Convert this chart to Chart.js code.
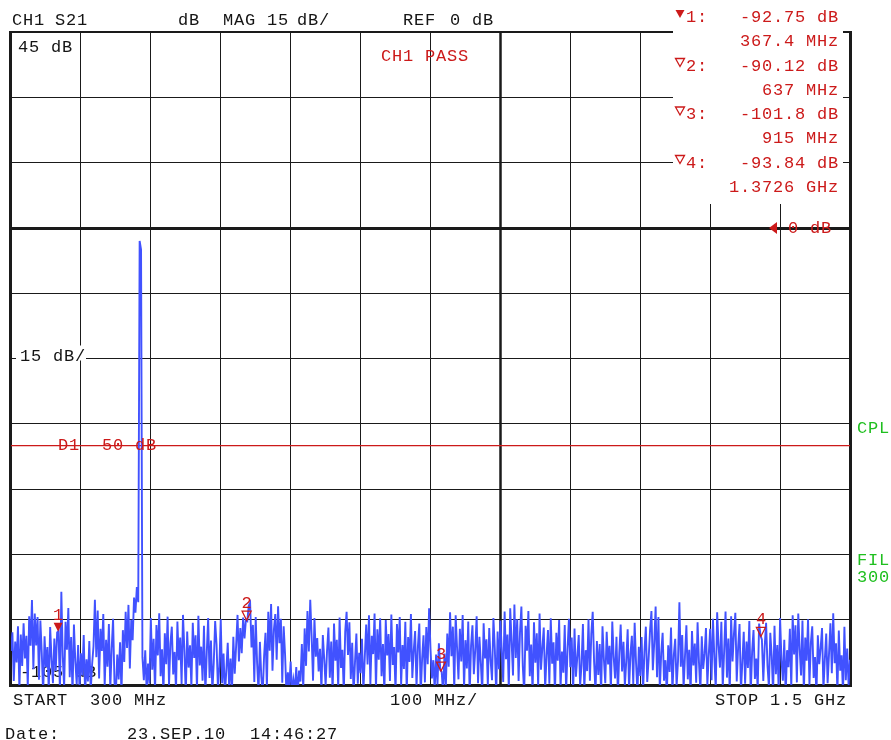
<!DOCTYPE html>
<html><head><meta charset="utf-8">
<script src="https://cdn.jsdelivr.net/npm/chart.js@4/dist/chart.umd.min.js"></script>
<style>html,body{margin:0;padding:0;background:#fff;}canvas{display:block;}</style>
</head><body>
<canvas id="c" width="891" height="740"></canvas>
<script>
// ---- sweep / scale settings ----
const START_MHZ = 300, STOP_MHZ = 1500, STEP_MHZ = 2;
const X_DIV_MHZ = 100;
const HEAVY_MHZ = 1000;
const TOP_DB = 45, BOTTOM_DB = -105, DB_PER_DIV = 15, REF_DB = 0;

// ---- trace (dB), one value per sweep point (300 MHz .. 1500 MHz, 2 MHz apart) ----
const traceDb = [
-97.2,-92.9,-104.1,-95.0,-99.8,-91.5,-106.2,-93.4,-100.6,-90.8,
-98.9,-93.7,-105.5,-89.2,-96.0,-85.5,-101.4,-88.6,-95.9,-89.4,
-103.8,-90.2,-97.6,-107.1,-93.8,-100.9,-96.3,-106.4,-91.7,-99.0,
-104.6,-94.3,-101.8,-92.9,-92.6,-106.8,-83.6,-98.4,-105.7,-90.5,
-96.9,-87.3,-103.2,-94.0,-107.3,-91.1,-99.5,-104.9,-95.8,-106.0,
-97.7,-102.8,-93.5,-107.4,-99.1,-104.2,-94.9,-106.5,-100.3,-96.1,
-85.4,-98.6,-87.9,-103.5,-92.1,-97.2,-88.7,-105.3,-94.6,-100.8,
-91.0,-106.1,-96.6,-89.8,-104.4,-106.9,-98.0,-103.7,-95.2,-107.2,
-92.4,-99.7,-88.2,-96.5,-86.6,-101.2,-90.0,-94.7,-84.9,-88.4,
-82.5,-86.0,-3.0,-5.0,-98.6,-103.9,-97.0,-106.3,-100.1,-104.7,
-89.6,-101.5,-94.4,-106.7,-91.2,-98.2,-88.5,-103.0,-96.8,-107.0,
-93.1,-100.2,-89.3,-105.1,-95.5,-91.6,-102.6,-97.4,-106.4,-90.4,
-99.3,-94.1,-104.8,-88.9,-97.0,-107.3,-92.7,-101.0,-95.9,-105.6,
-90.7,-98.8,-93.6,-106.2,-89.1,-100.5,-96.2,-104.0,-91.4,-107.1,
-97.5,-89.6,-103.4,-94.8,-106.6,-99.9,-90.3,-95.7,-105.9,-100.7,
-89.9,-104.6,-97.8,-107.2,-101.6,-95.3,-105.5,-98.9,-106.8,-93.9,
-102.4,-96.0,-88.9,-99.6,-91.9,-97.7,-89.5,-94.3,-90.0,-90.3,
-86.8,-86.1,-96.4,-91.2,-104.3,-89.4,-100.0,-106.5,-95.1,-103.1,
-107.0,-98.3,-93.0,-105.8,-88.2,-97.1,-86.4,-101.7,-92.3,-88.7,
-99.2,-86.9,-95.4,-89.8,-104.5,-91.5,-98.0,-107.3,-102.1,-105.4,
-99.6,-107.4,-103.8,-106.1,-100.9,-107.5,-101.7,-104.2,-95.6,-106.0,
-92.0,-100.6,-88.0,-97.3,-85.4,-93.8,-104.0,-89.6,-98.5,-94.2,
-101.9,-96.7,-106.3,-93.5,-99.0,-105.2,-97.2,-91.8,-103.3,-95.0,
-107.0,-90.9,-99.4,-94.6,-105.8,-89.5,-101.1,-96.9,-106.9,-92.8,
-88.2,-98.1,-90.6,-103.6,-95.3,-107.2,-99.8,-93.2,-104.7,-97.6,
-102.3,-94.4,-106.5,-98.7,-91.1,-100.3,-89.0,-104.9,-93.7,-97.9,
-88.6,-106.0,-92.2,-99.2,-89.7,-103.0,-95.6,-107.1,-90.1,-98.2,
-93.3,-104.1,-88.8,-100.4,-96.3,-106.6,-91.0,-97.5,-89.4,-105.0,
-95.8,-101.3,-90.5,-106.7,-94.0,-99.7,-88.7,-103.4,-97.1,-92.6,
-105.6,-96.1,-90.9,-107.3,-99.0,-93.6,-104.4,-91.7,-100.2,-87.4,
-96.7,-103.5,-99.3,-106.1,-98.0,-104.9,-95.4,-101.6,-102.0,-107.0,
-97.8,-105.3,-93.2,-100.8,-88.3,-98.4,-91.6,-106.4,-89.0,-96.5,
-103.7,-92.1,-99.6,-88.9,-105.9,-94.7,-101.2,-90.4,-107.2,-96.0,
-91.3,-102.5,-97.0,-89.2,-104.6,-93.9,-100.0,-106.8,-90.8,-98.9,
-94.5,-105.1,-91.9,-99.5,-103.9,-89.6,-96.6,-107.4,-92.7,-101.4,
-90.2,-97.4,-104.3,-88.1,-99.1,-93.4,-106.2,-87.4,-95.0,-102.8,
-86.5,-98.8,-89.9,-104.1,-92.9,-87.0,-100.7,-106.9,-91.4,-97.1,
-88.0,-103.0,-95.7,-107.1,-90.6,-99.9,-93.1,-105.4,-88.6,-101.5,
-96.4,-91.8,-106.0,-98.2,-92.4,-104.7,-89.7,-100.1,-95.2,-107.3,
-93.0,-99.4,-90.1,-105.7,-97.3,-102.2,-91.2,-106.6,-96.8,-89.8,
-100.9,-94.1,-107.0,-92.0,-103.1,-98.5,-93.5,-105.2,-100.4,-91.0,
-106.3,-97.0,-101.8,-89.9,-104.0,-93.2,-88.2,-99.7,-106.8,-94.9,
-102.7,-95.6,-107.2,-91.5,-99.1,-104.6,-92.8,-100.3,-96.0,-106.4,
-90.4,-98.6,-103.5,-93.9,-107.4,-97.7,-91.1,-101.9,-95.1,-105.3,
-99.5,-92.2,-106.1,-97.9,-93.7,-104.8,-90.7,-100.0,-107.0,-96.2,
-102.9,-94.0,-106.7,-97.3,-91.6,-104.3,-99.0,-92.5,-88.0,-101.6,
-95.3,-87.0,-103.2,-89.4,-106.4,-97.6,-93.0,-104.0,-99.3,-107.3,
-95.9,-102.0,-91.8,-106.9,-98.1,-94.4,-105.4,-99.5,-86.0,-100.8,
-93.5,-105.8,-98.3,-91.3,-103.7,-96.9,-107.1,-92.6,-100.5,-95.5,
-104.5,-90.6,-99.8,-106.6,-93.8,-101.3,-97.8,-91.9,-105.0,-98.0,
-92.1,-103.9,-89.8,-98.7,-106.2,-88.3,-95.9,-101.0,-90.5,-105.6,
-97.2,-88.1,-103.3,-94.3,-107.0,-89.2,-99.6,-93.3,-88.4,-104.2,
-96.3,-91.0,-106.5,-99.9,-92.8,-104.7,-95.0,-101.1,-90.3,-107.2,
-97.4,-92.4,-103.6,-98.9,-106.0,-90.9,-93.6,-94.6,-104.1,-96.1,
-90.7,-100.6,-105.5,-93.0,-98.3,-107.1,-91.4,-102.5,-95.8,-106.3,
-89.6,-99.2,-104.0,-94.6,-107.4,-97.0,-100.9,-92.1,-105.7,-89.0,
-98.0,-91.3,-104.4,-88.6,-96.7,-102.8,-90.2,-106.9,-94.1,-99.4,
-89.9,-105.0,-95.3,-91.5,-103.4,-98.6,-107.3,-93.6,-100.2,-96.5,
-91.9,-106.1,-99.1,-93.2,-104.6,-97.8,-90.8,-102.3,-88.5,-100.0,
-95.4,-106.8,-92.5,-101.7,-98.2,-107.0,-91.6,-103.9,-96.6,-105.2,
-99.2
];
const freqMhz = traceDb.map((_, i) => START_MHZ + i * STEP_MHZ);

// ---- limit line ----
const limitLineDb = -50;
const limitLabel = 'D1  50 dB';

// ---- markers ----
const markerIds = ['1', '2', '3', '4'];
const markerFreqMhz = [367.4, 637, 915, 1372.6];
const markerDb = [-92.75, -90.12, -101.8, -93.84];
const markerDbText = ['-92.75 dB', '-90.12 dB', '-101.8 dB', '-93.84 dB'];
const markerFreqText = ['367.4 MHz', '637 MHz', '915 MHz', '1.3726 GHz'];
const activeMarker = 0;

// ---- annotation texts ----
const headerTexts = [['CH1', 12], ['S21', 55], ['dB', 178], ['MAG', 223], ['15', 267], ['dB/', 297], ['REF', 403], ['0', 450], ['dB', 472]];
const footerTexts = [['START  300 MHz', 13, 705], ['100 MHz/', 390, 705], ['STOP 1.5 GHz', 715, 705], ['Date:', 5, 739], ['23.SEP.10', 127, 739], ['14:46:27', 250, 739]];

const BLACK = '#141414', RED = '#cc1a1a', GREEN = '#1fbf1f', BLUE = '#4152ff', GRID = '#1a1a1a';
const FONT = '17px "Liberation Mono", "DejaVu Sans Mono", monospace';
const ADV = 11;

function mono(ctx, text, x, y, color) {
  ctx.save();
  ctx.fillStyle = color; ctx.font = FONT; ctx.textAlign = 'left'; ctx.textBaseline = 'alphabetic';
  for (let i = 0; i < text.length; i++) ctx.fillText(text[i], x + i * ADV, y);
  ctx.restore();
}
function monoRight(ctx, text, right, y, color) {
  mono(ctx, text, right - text.length * ADV + 1, y, color);
}
function tri(ctx, cx, tipY, w, h, filled, color, dir) {
  ctx.save();
  ctx.beginPath();
  if (dir === 'left') {
    ctx.moveTo(cx, tipY); ctx.lineTo(cx + h, tipY - w / 2); ctx.lineTo(cx + h, tipY + w / 2);
  } else {
    ctx.moveTo(cx, tipY); ctx.lineTo(cx - w / 2, tipY - h); ctx.lineTo(cx + w / 2, tipY - h);
  }
  ctx.closePath();
  if (filled) { ctx.fillStyle = color; ctx.fill(); }
  else { ctx.strokeStyle = color; ctx.lineWidth = 1.3; ctx.stroke(); }
  ctx.restore();
}
function hLine(ctx, x1, x2, y, w) {
  ctx.save(); ctx.strokeStyle = GRID; ctx.lineWidth = w;
  ctx.beginPath(); ctx.moveTo(x1, y); ctx.lineTo(x2, y); ctx.stroke(); ctx.restore();
}
function vLine(ctx, x, y1, y2, w) {
  ctx.save(); ctx.strokeStyle = GRID; ctx.lineWidth = w;
  ctx.beginPath(); ctx.moveTo(x, y1); ctx.lineTo(x, y2); ctx.stroke(); ctx.restore();
}

const overlay = {
  id: 'overlay',
  beforeDatasetsDraw(chart) {
    const ctx = chart.ctx, xs = chart.scales.x, ys = chart.scales.y, a = chart.chartArea;
    // heavy graticule lines and frame
    const xh = Math.round(xs.getPixelForValue(HEAVY_MHZ)) + 0.5;
    vLine(ctx, xh, a.top, a.bottom, 2.5);
    const yr = Math.round(ys.getPixelForValue(REF_DB)) + 0.5;
    hLine(ctx, a.left - 1.5, a.right + 1.5, yr, 3);
    const xl = Math.round(xs.getPixelForValue(START_MHZ)) - 0.5;
    const xr = Math.round(xs.getPixelForValue(STOP_MHZ)) + 0.5;
    const yt = Math.round(ys.getPixelForValue(TOP_DB));
    const yb = Math.round(ys.getPixelForValue(BOTTOM_DB)) + 0.5;
    vLine(ctx, xl, a.top - 1, a.bottom + 2, 3);
    vLine(ctx, xr, a.top - 1, a.bottom + 2, 3);
    hLine(ctx, xl - 1.5, xr + 1.5, yb, 3);
    hLine(ctx, xl - 1.5, xr + 1.5, yt, 2);
    // level labels
    mono(ctx, TOP_DB + ' dB', 18, a.top + 20, BLACK);
    const yDiv = ys.getPixelForValue(REF_DB - 2 * DB_PER_DIV);
    ctx.fillStyle = '#fff'; ctx.fillRect(16, yDiv - 13, 70, 15);
    mono(ctx, DB_PER_DIV + ' dB/', 20, yDiv + 2, BLACK);
    mono(ctx, BOTTOM_DB + ' dB', 20, a.bottom - 8, BLACK);
  },
  afterDatasetsDraw(chart) {
    const ctx = chart.ctx, xs = chart.scales.x, ys = chart.scales.y;
    mono(ctx, limitLabel, 58, ys.getPixelForValue(limitLineDb) + 4, RED);
    for (let i = 0; i < markerIds.length; i++) {
      const px = xs.getPixelForValue(markerFreqMhz[i]);
      const py = ys.getPixelForValue(markerDb[i]);
      tri(ctx, px, py, 9, 9, i === activeMarker, RED);
      mono(ctx, markerIds[i], px - 5, py - 12, RED);
    }
  },
  afterDraw(chart) {
    const ctx = chart.ctx, ys = chart.scales.y;
    // marker readout panel
    ctx.fillStyle = '#fff'; ctx.fillRect(673, 0, 170, 204);
    headerTexts.forEach(([t, x]) => mono(ctx, t, x, 25, BLACK));
    for (let i = 0; i < markerIds.length; i++) {
      const base = 22 + i * 48.5;
      tri(ctx, 680, base - 4, 9, 8, i === activeMarker, RED);
      mono(ctx, markerIds[i] + ':', 686, base, RED);
      monoRight(ctx, markerDbText[i], 838, base, RED);
      monoRight(ctx, markerFreqText[i], 838, base + 24, RED);
    }
    const yRef = ys.getPixelForValue(REF_DB);
    tri(ctx, 769, yRef, 12, 8, true, RED, 'left');
    mono(ctx, REF_DB + ' dB', 788, yRef + 5, RED);
    mono(ctx, 'CH1 PASS', 381, 61, RED);
    mono(ctx, 'CPL', 857, 433, GREEN);
    mono(ctx, 'FIL', 857, 565, GREEN);
    mono(ctx, '300', 857, 582, GREEN);
    footerTexts.forEach(([t, x, y]) => mono(ctx, t, x, y, BLACK));
  }
};

new Chart(document.getElementById('c'), {
  type: 'line',
  data: {
    datasets: [
      {
        label: 'S21',
        data: freqMhz.map((f, i) => ({ x: f, y: traceDb[i] })),
        borderColor: BLUE, borderWidth: 1.9, pointRadius: 0, tension: 0, order: 0
      },
      {
        label: 'D1',
        data: [{ x: START_MHZ, y: limitLineDb }, { x: STOP_MHZ, y: limitLineDb }],
        borderColor: RED, borderWidth: 1.3, pointRadius: 0, order: 1
      }
    ]
  },
  options: {
    responsive: false, animation: false, devicePixelRatio: 1,
    layout: { padding: { left: 11, top: 32, right: 41, bottom: 55 } },
    plugins: { legend: { display: false }, tooltip: { enabled: false } },
    scales: {
      x: {
        type: 'linear', min: START_MHZ, max: STOP_MHZ,
        ticks: { display: false, stepSize: X_DIV_MHZ },
        border: { display: false },
        grid: { drawTicks: false, color: GRID, lineWidth: 1 }
      },
      y: {
        type: 'linear', min: BOTTOM_DB, max: TOP_DB,
        ticks: { display: false, stepSize: DB_PER_DIV },
        border: { display: false },
        grid: { drawTicks: false, color: GRID, lineWidth: 1 }
      }
    }
  },
  plugins: [overlay]
});
</script>
</body></html>
